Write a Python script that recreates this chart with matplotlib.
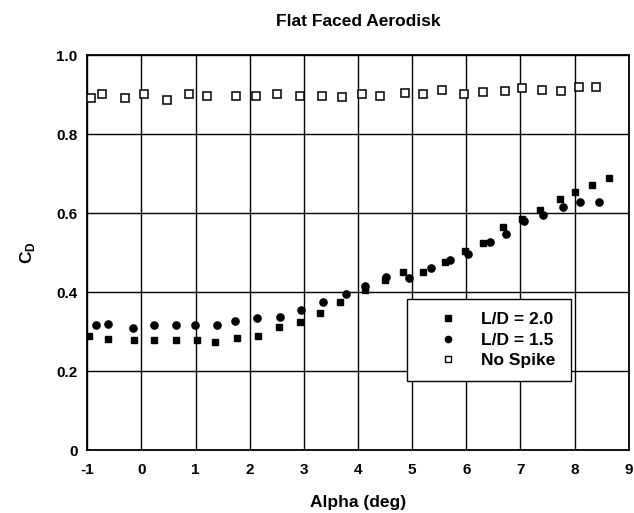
import matplotlib
matplotlib.use("Agg")
import matplotlib.pyplot as plt
from matplotlib.lines import Line2D

plt.rcParams['font.family'] = ['Liberation Sans Narrow', 'Liberation Sans', 'DejaVu Sans']
plt.rcParams['font.weight'] = 'bold'

# L/D = 2.0 (filled squares)
alpha_ld20 = [-0.97, -0.61, -0.14, 0.24, 0.64, 1.02, 1.36, 1.76, 2.15, 2.54, 2.92, 3.29, 3.67,
              4.12, 4.49, 4.83, 5.20, 5.61, 5.98, 6.30, 6.68, 7.03, 7.37, 7.73, 8.01, 8.33, 8.64]
cd_ld20 = [0.289, 0.281, 0.278, 0.278, 0.278, 0.278, 0.274, 0.284, 0.289, 0.311, 0.325, 0.348, 0.375,
           0.406, 0.431, 0.451, 0.451, 0.476, 0.505, 0.524, 0.566, 0.586, 0.608, 0.637, 0.655, 0.671, 0.689]

# L/D = 1.5 (filled circles)
alpha_ld15 = [-0.84, -0.62, -0.15, 0.24, 0.63, 0.99, 1.39, 1.73, 2.13, 2.55, 2.95, 3.36, 3.78,
              4.13, 4.52, 4.94, 5.35, 5.69, 6.03, 6.44, 6.73, 7.07, 7.42, 7.78, 8.10, 8.45]
cd_ld15 = [0.317, 0.321, 0.310, 0.317, 0.317, 0.317, 0.317, 0.328, 0.334, 0.338, 0.356, 0.376, 0.395,
           0.417, 0.439, 0.435, 0.461, 0.481, 0.498, 0.527, 0.548, 0.580, 0.596, 0.616, 0.628, 0.629]

# No spike (open squares)
alpha_nospike = [-0.93, -0.73, -0.30, 0.05, 0.48, 0.88, 1.21, 1.75, 2.12, 2.51, 2.93, 3.33, 3.70,
                 4.07, 4.41, 4.87, 5.20, 5.56, 5.96, 6.30, 6.72, 7.03, 7.39, 7.74, 8.09, 8.40]
cd_nospike = [0.893, 0.901, 0.893, 0.901, 0.888, 0.901, 0.898, 0.898, 0.896, 0.903, 0.896, 0.896, 0.894,
              0.901, 0.896, 0.904, 0.903, 0.913, 0.903, 0.908, 0.910, 0.916, 0.913, 0.910, 0.920, 0.920]

x_ticks = [-1, 0, 1, 2, 3, 4, 5, 6, 7, 8, 9]
y_ticks = [0, 0.2, 0.4, 0.6, 0.8, 1.0]
y_tick_labels = ['0', '0.2', '0.4', '0.6', '0.8', '1.0']

fig = plt.figure(figsize=(6.34, 5.13), dpi=100)
ax = fig.add_axes([0.1377, 0.1222, 0.854, 0.770])

ax.plot(alpha_ld20, cd_ld20, linestyle='none', marker='s', ms=5, color='black', label='L/D = 2.0', zorder=3)
ax.plot(alpha_ld15, cd_ld15, linestyle='none', marker='o', ms=5.2, color='black', label='L/D = 1.5', zorder=3)
ax.plot(alpha_nospike, cd_nospike, linestyle='none', marker='s', ms=6, mfc='white', mec='black',
        mew=1.1, label='No Spike', zorder=3)

ax.set_xlim(-1, 9)
ax.set_ylim(0, 1.0)
ax.set_xticks(x_ticks)
ax.set_xticklabels([str(t) for t in x_ticks])
ax.set_yticks(y_ticks)
ax.set_yticklabels(y_tick_labels)
ax.tick_params(length=0, labelsize=11)
ax.tick_params(axis='x', pad=9)
ax.tick_params(axis='y', pad=7)
ax.grid(True, color='black', linewidth=1.0)
ax.set_axisbelow(True)
for s in ax.spines.values():
    s.set_linewidth(1.3)

ax.set_xlabel('Alpha (deg)', fontsize=12.5, fontweight='bold', labelpad=13)
ax.set_ylabel('C$_\\mathregular{D}$', fontsize=12.5, fontweight='bold', labelpad=14)
ax.set_title('Flat Faced Aerodisk', fontsize=12.5, fontweight='bold', pad=21)

handles = [
    Line2D([], [], linestyle='none', marker='s', ms=4, color='black'),
    Line2D([], [], linestyle='none', marker='o', ms=4.5, color='black'),
    Line2D([], [], linestyle='none', marker='s', ms=4.5, mfc='white', mec='black', mew=1.0),
]
leg = ax.legend(handles, ['L/D = 2.0', 'L/D = 1.5', 'No Spike'], loc='lower left',
                bbox_to_anchor=(0.591, 0.175, 0.302, 0.203), mode='expand',
                fancybox=False, framealpha=1, edgecolor='black', fontsize=12.5,
                handletextpad=0.3, borderpad=0.75, labelspacing=0.3,
                handlelength=3.2, borderaxespad=0)
leg.get_frame().set_linewidth(1.0)

fig.savefig('out.png', dpi=100)
